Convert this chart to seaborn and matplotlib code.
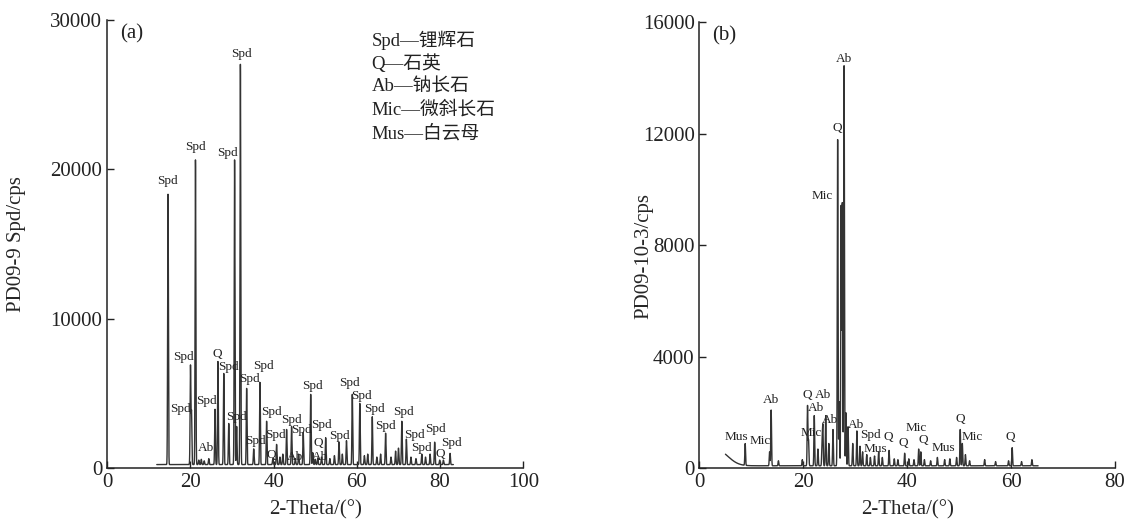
import numpy as np
import pandas as pd
import matplotlib
matplotlib.use("Agg")
import matplotlib.pyplot as plt
import seaborn as sns

# ---------------- data ----------------
# Panel (a): PD09-9 Spd  -- peak positions (2-theta) and peak intensities (cps)
a_peak_pos = [14.6, 20.0, 20.25, 21.2, 22.0, 22.6, 23.3, 24.4, 25.9, 26.6, 28.0, 29.2,
              30.6, 31.1, 32.0, 33.5, 35.2, 36.7, 38.3, 39.8, 40.7, 41.5, 42.2, 43.1,
              44.3, 45.2, 46.0, 47.1, 48.9, 49.4, 50.0, 50.6, 51.5, 52.5, 53.5, 54.6,
              55.7, 56.5, 57.5, 58.9, 60.7, 61.8, 62.6, 63.7, 64.8, 65.7, 66.9, 68.2,
              69.3, 70.0, 70.8, 71.9, 73.0, 74.2, 75.6, 76.5, 77.6, 78.7, 79.9, 80.8, 82.4]
a_peak_int = [18100, 6600, 3500, 20400, 300, 350, 250, 400, 3700, 6900, 6100, 2750,
              20400, 2550, 26800, 5100, 1050, 5500, 2900, 400, 1350, 500, 700, 2350,
              2550, 400, 700, 2150, 4700, 800, 350, 450, 500, 1800, 400, 600,
              1500, 700, 1600, 4700, 4100, 600, 700, 3200, 500, 700, 2100, 500,
              900, 1100, 2900, 1700, 500, 400, 700, 500, 700, 1500, 300, 300, 750]
a_start, a_end, a_base = 11.9, 83.2, 230

# Panel (b): PD09-10-3
b_peak_pos = [3.5, 8.8, 13.5, 13.8, 15.2, 19.8, 20.8, 21.0, 22.1, 22.8, 23.6, 23.75,
              24.3, 24.9, 25.7, 26.6, 26.9, 27.27, 27.5, 27.84, 28.2, 28.6, 29.5, 30.3,
              30.9, 31.4, 32.2, 32.9, 33.7, 34.5, 35.2, 36.5, 37.5, 38.2, 39.5, 40.3,
              41.3, 42.2, 42.6, 43.3, 44.5, 45.8, 47.2, 48.2, 49.5, 50.2, 50.6, 51.2,
              52.0, 54.9, 57.0, 59.5, 60.2, 62.0, 64.0]
b_peak_int = [550, 780, 500, 2000, 180, 220, 2150, 900, 1800, 600, 900, 1400,
              1800, 800, 1300, 11700, 2300, 9300, 9400, 14350, 1900, 1400, 800, 1250,
              700, 500, 400, 300, 350, 500, 300, 550, 250, 220, 450, 250,
              220, 600, 500, 220, 180, 300, 220, 250, 300, 1300, 800, 400,
              180, 220, 150, 180, 650, 150, 220]
b_start, b_end, b_base = 5.0, 65.2, 80

# peak labels: (text, 2-theta, intensity) of the label centre
a_labels = [("Spd", 14.5, 19200), ("Spd", 21.1, 21500), ("Spd", 28.9, 21100),
            ("Spd", 32.3, 27700), ("Spd", 18.2, 7400), ("Spd", 17.5, 3950),
            ("Q", 26.4, 7650), ("Spd", 29.1, 6750), ("Spd", 23.9, 4500),
            ("Spd", 34.1, 5950), ("Spd", 37.6, 6800), ("Spd", 31.1, 3400),
            ("Spd", 39.5, 3770), ("Spd", 35.5, 1800), ("Ab", 23.7, 1320),
            ("Spd", 40.5, 2200), ("Q", 39.3, 870), ("Spd", 44.3, 3210),
            ("Spd", 46.7, 2540), ("Spd", 51.5, 2880), ("Spd", 49.2, 5490),
            ("Q", 50.7, 1650), ("Ab", 51.1, 760), ("Ab", 45.1, 760),
            ("Spd", 55.7, 2140), ("Spd", 58.3, 5710), ("Spd", 61.1, 4820),
            ("Spd", 64.3, 3950), ("Spd", 66.9, 2830), ("Spd", 71.2, 3770),
            ("Spd", 73.9, 2180), ("Spd", 75.5, 1360), ("Spd", 78.9, 2590),
            ("Q", 80.0, 940), ("Spd", 82.8, 1650)]
b_labels = [("Ab", 27.8, 14660), ("Q", 26.5, 12190), ("Mic", 23.6, 9760),
            ("Mus", 7.2, 1100), ("Mic", 11.7, 980), ("Ab", 13.8, 2440),
            ("Q", 20.8, 2620), ("Ab", 23.7, 2620), ("Ab", 22.4, 2140),
            ("Ab", 25.1, 1720), ("Mic", 21.6, 1240), ("Ab", 30.2, 1560),
            ("Spd", 32.9, 1170), ("Mus", 33.9, 680), ("Q", 36.4, 1120),
            ("Q", 39.2, 910), ("Mic", 41.7, 1420), ("Q", 43.0, 1000),
            ("Mus", 46.9, 700), ("Q", 50.2, 1750), ("Mic", 52.6, 1120),
            ("Q", 59.8, 1100)]

legend_lines = ["Spd—锂辉石", "Q—石英", "Ab—钠长石", "Mic—微斜长石", "Mus—白云母"]

a_xticks = [0, 20, 40, 60, 80, 100]
a_yticks = [0, 10000, 20000, 30000]
b_xticks = [0, 20, 40, 60, 80]
b_yticks = [0, 4000, 8000, 12000, 16000]


def profile(pos, inten, start, end, base, width):
    x = np.arange(start, end, 0.01)
    y = np.full_like(x, float(base))
    for p, h in zip(pos, inten):
        w = 2.0 if p < 5 else width
        y += h * np.exp(-0.5 * ((x - p) / w) ** 2)
    return pd.DataFrame({"two_theta": x, "cps": y})


sns.set_theme(style="ticks")
plt.rcParams["font.family"] = ["Liberation Serif", "Noto Sans CJK SC"]
plt.rcParams["xtick.direction"] = "in"
plt.rcParams["ytick.direction"] = "in"

fig = plt.figure(figsize=(11.28, 5.29), dpi=100)
ax1 = fig.add_axes([0.0951, 0.1153, 0.3688, 0.8469])
ax2 = fig.add_axes([0.6201, 0.1153, 0.3684, 0.8431])

line_color = "#333333"
tick_fs = 15
lab_fs = 9.5

for ax, pos, inten, st, en, base, width, labels, xt, yt, ylab, tag, ylc in [
    (ax1, a_peak_pos, a_peak_int, a_start, a_end, a_base, 0.09, a_labels, a_xticks,
     a_yticks, "PD09-9 Spd/cps", "(a)", (-0.195, 0.50)),
    (ax2, b_peak_pos, b_peak_int, b_start, b_end, b_base, 0.07, b_labels, b_xticks,
     b_yticks, "PD09-10-3/cps", "(b)", (-0.112, 0.475)),
]:
    df = profile(pos, inten, st, en, base, width)
    sns.lineplot(data=df, x="two_theta", y="cps", ax=ax, color=line_color, lw=1.0)
    ax.set_xlim(xt[0], xt[-1])
    ax.set_ylim(yt[0], yt[-1])
    ax.set_xticks(xt)
    ax.set_yticks(yt)
    ax.tick_params(labelsize=tick_fs, length=5, width=1, colors="#222222")
    for s in ["top", "right"]:
        ax.spines[s].set_visible(False)
    for s in ["left", "bottom"]:
        ax.spines[s].set_color("#222222")
        ax.spines[s].set_linewidth(1.1)
    ax.set_xlabel("2-Theta/(°)", fontsize=tick_fs, labelpad=6)
    ax.set_ylabel(ylab, fontsize=tick_fs)
    ax.yaxis.set_label_coords(*ylc)
    for t, x, y in labels:
        ax.text(x, y, t, ha="center", va="center", fontsize=lab_fs, color="#222222")
    ax.text(0.03, 0.97, tag, transform=ax.transAxes, ha="left", va="center",
            fontsize=tick_fs, color="#222222")

for i, t in enumerate(legend_lines):
    ax1.text(0.635, 0.955 - i * 0.052, t, transform=ax1.transAxes, ha="left",
             va="center", fontsize=13.5, color="#222222")

fig.savefig("out.png", dpi=100)
